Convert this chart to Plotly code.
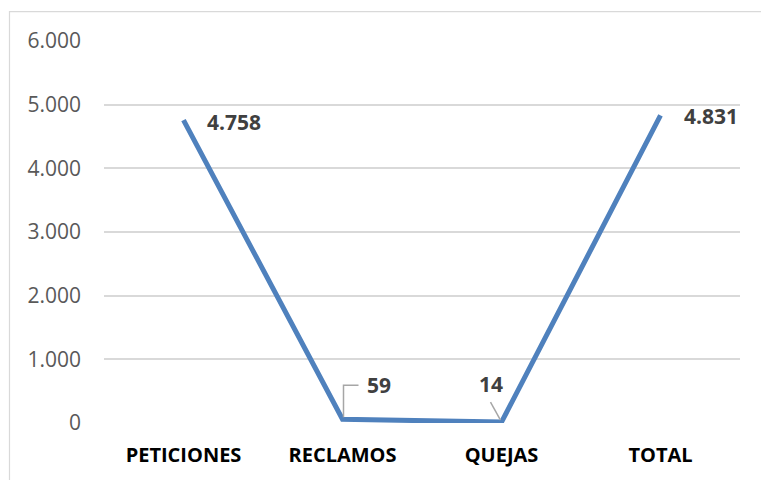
import plotly.graph_objects as go

# Totals per request type
categories = ["PETICIONES", "RECLAMOS", "QUEJAS", "TOTAL"]
values = [4758, 59, 14, 4831]
y_ticks = [0, 1000, 2000, 3000, 4000, 5000, 6000]

LINE_COLOR = "#4f81bd"
FONT = "Open Sans"

fig = go.Figure()
fig.add_trace(go.Scatter(
    x=categories, y=values, mode="lines",
    line=dict(color=LINE_COLOR, width=5),
    hoverinfo="skip", showlegend=False,
))

# Data labels: pixel offsets from each point, leader lines for the two small values
label_offsets = {
    "PETICIONES": (50, -2),
    "RECLAMOS": (36, 34),
    "QUEJAS": (-11, 38),
    "TOTAL": (50, -1),
}
for cat, val in zip(categories, values):
    dx, dy = label_offsets[cat]
    fig.add_annotation(
        x=cat, y=val, text="<b>" + f"{val:,}".replace(",", ".") + "</b>",
        showarrow=True, arrowcolor="rgba(0,0,0,0)", arrowwidth=0.1,
        ax=dx, ay=-dy, standoff=0,
        font=dict(family=FONT, size=21, color="#404040"),
    )

# Elbow leader line for RECLAMOS
fig.add_shape(
    type="path", xref="x", yref="y",
    xsizemode="pixel", ysizemode="pixel",
    xanchor=categories[1], yanchor=values[1],
    path="M1,2 L1,34 L16,34",
    line=dict(color="#a6a6a6", width=1.5),
)
# Straight leader line for QUEJAS
fig.add_shape(
    type="line", xref="x", yref="y",
    xsizemode="pixel", ysizemode="pixel",
    xanchor=categories[2], yanchor=values[2],
    x0=-1, y0=2, x1=-11, y1=20,
    line=dict(color="#a6a6a6", width=1.5),
)

# Outer chart frame
fig.add_shape(
    type="rect", xref="paper", yref="paper",
    x0=-0.1486, x1=1.05, y0=-0.16, y1=1.0768,
    line=dict(color="#d9d9d9", width=1.2), layer="below",
)

fig.update_layout(
    width=761, height=480,
    margin=dict(l=104, r=21, t=41, b=55),
    paper_bgcolor="white", plot_bgcolor="white",
    separators=",.",
    xaxis=dict(
        type="category", range=[-0.5, len(categories) - 0.5],
        showgrid=False, zeroline=False, showline=False,
        ticks="", ticklabelstandoff=18,
        tickfont=dict(family=FONT, size=20, color="#000000"),
        tickprefix="<b>", ticksuffix="</b>",
    ),
    yaxis=dict(
        range=[0, 6000], tickvals=y_ticks, tickformat=",d",
        showgrid=True, gridcolor="#d9d9d9", gridwidth=1.5,
        zeroline=False, showline=False, ticks="", ticklabelstandoff=22,
        tickfont=dict(family=FONT, size=21, color="#595959"),
    ),
)

fig.write_html("out.html")
